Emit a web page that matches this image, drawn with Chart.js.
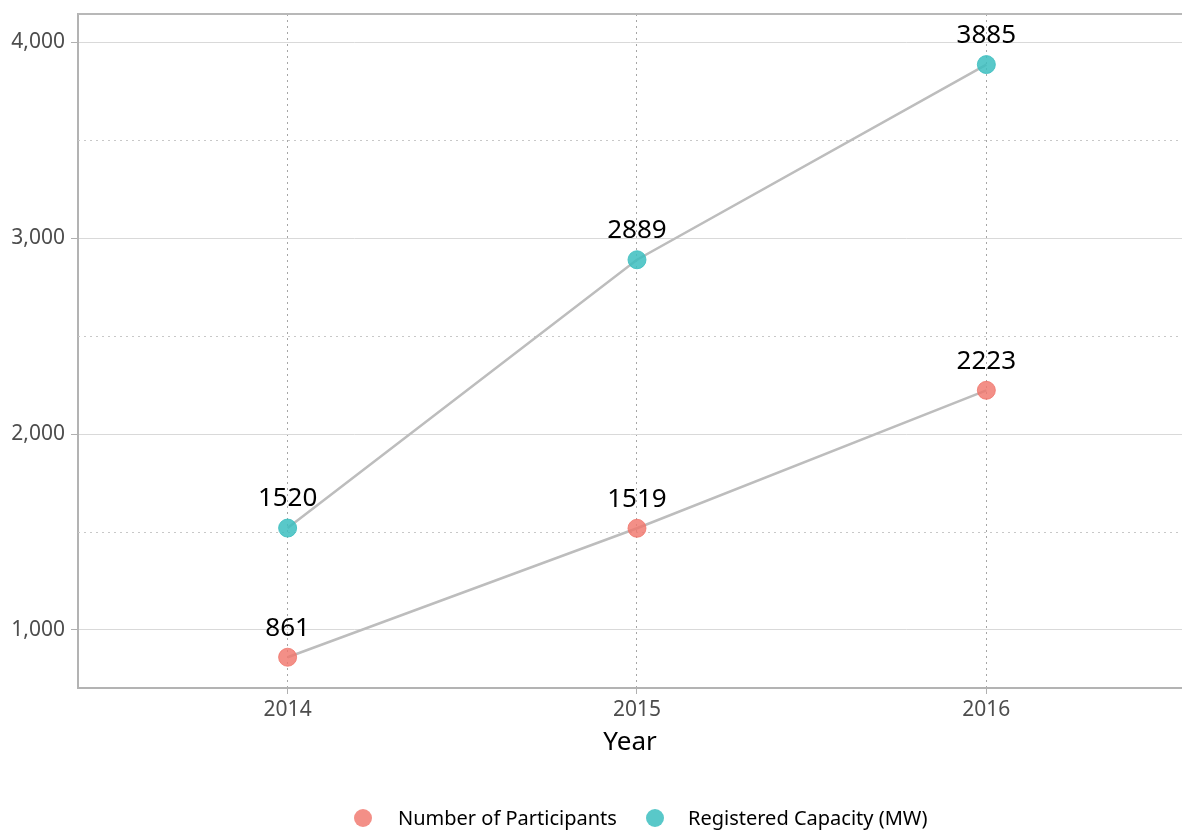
<!DOCTYPE html>
<html>
<head>
<meta charset="utf-8">
<script src="https://cdn.jsdelivr.net/npm/chart.js@4"></script>
<style>
  html, body { margin: 0; padding: 0; background: #fff; }
  #wrap { position: relative; width: 1182px; height: 830px; }
  .leyenda { position: absolute; top: 806px; height: 24px; line-height: 24px;
             font-family: 'Noto Sans', 'DejaVu Sans', sans-serif; font-size: 20px; color: #000; white-space: nowrap; }
  .punto { position: absolute; top: 3px; width: 18px; height: 18px; border-radius: 50%; }
</style>
</head>
<body>
<div id="wrap">
  <canvas id="grafico"></canvas>
  <div class="leyenda" style="left:354px;"><span class="punto" style="left:0;"></span><span style="position:absolute;left:44px;">Number of Participants</span></div>
  <div class="leyenda" style="left:646px;"><span class="punto" style="left:0;"></span><span style="position:absolute;left:42px;">Registered Capacity (MW)</span></div>
</div>
<script>
// datos
const years = [2014, 2015, 2016];
const participants = [861, 1519, 2223];
const capacity = [1520, 2889, 3885];
const seriesNames = ['Number of Participants', 'Registered Capacity (MW)'];
const seriesColors = ['rgba(240,118,108,0.82)', 'rgba(60,190,192,0.85)'];
const yMajorTicks = [1000, 2000, 3000, 4000];
const yMinorTicks = [1500, 2500, 3500];

const fontFam = "'Noto Sans', 'DejaVu Sans', sans-serif";

// leyenda en html
document.querySelectorAll('.punto').forEach((el, i) => { el.style.background = seriesColors[i]; });

// etiquetas sobre los puntos + lineas punteadas + borde superior
const extras = {
  id: 'extras',
  beforeDatasetsDraw(chart) {
    const { ctx, chartArea, scales } = chart;
    ctx.save();
    ctx.strokeStyle = '#c8c8c8';
    ctx.lineWidth = 1;
    ctx.setLineDash([2, 4]);
    yMinorTicks.forEach(v => {
      const y = Math.round(scales.y.getPixelForValue(v)) + 0.5;
      ctx.beginPath();
      ctx.moveTo(chartArea.left, y);
      ctx.lineTo(chartArea.right, y);
      ctx.stroke();
    });
    ctx.setLineDash([]);
    ctx.strokeStyle = '#b8b8b8';
    ctx.lineWidth = 2;
    ctx.beginPath();
    ctx.moveTo(chartArea.left, chartArea.top);
    ctx.lineTo(chartArea.right, chartArea.top);
    ctx.stroke();
    ctx.restore();
  },
  afterDatasetsDraw(chart) {
    const { ctx } = chart;
    ctx.save();
    ctx.fillStyle = '#000';
    ctx.font = '26px ' + fontFam;
    ctx.textAlign = 'center';
    ctx.textBaseline = 'middle';
    chart.data.datasets.forEach((ds, i) => {
      chart.getDatasetMeta(i).data.forEach((pt, j) => {
        ctx.fillText(String(ds.data[j].y), pt.x, pt.y - 29);
      });
    });
    ctx.restore();
  }
};

const ctx = document.getElementById('grafico').getContext('2d');
new Chart(ctx, {
  type: 'line',
  data: {
    datasets: [
      {
        label: seriesNames[0],
        data: years.map((x, i) => ({ x: x, y: participants[i] })),
        borderColor: '#bdbdbd',
        borderWidth: 2.5,
        pointRadius: 9,
        pointHoverRadius: 9,
        pointBackgroundColor: seriesColors[0],
        pointBorderColor: seriesColors[0],
        pointBorderWidth: 1
      },
      {
        label: seriesNames[1],
        data: years.map((x, i) => ({ x: x, y: capacity[i] })),
        borderColor: '#bdbdbd',
        borderWidth: 2.5,
        pointRadius: 9,
        pointHoverRadius: 9,
        pointBackgroundColor: seriesColors[1],
        pointBorderColor: seriesColors[1],
        pointBorderWidth: 1
      }
    ]
  },
  options: {
    responsive: true,
    maintainAspectRatio: false,
    animation: false,
    layout: { autoPadding: false, padding: { top: 14, right: 0, left: 0, bottom: 0 } },
    scales: {
      x: {
        type: 'linear',
        min: 2013.4,
        max: 2016.56,
        afterBuildTicks: (scale) => { scale.ticks = years.map(v => ({ value: v })); },
        afterFit: (scale) => { scale.height = 142; scale.paddingLeft = 0; scale.paddingRight = 0; },
        ticks: {
          callback: (v) => String(v),
          color: '#4d4d4d',
          font: { family: fontFam, size: 21 },
          padding: 3
        },
        grid: {
          color: '#a6a6a6',
          lineWidth: 1,
          tickLength: 6,
          tickColor: '#b0b0b0',
          tickBorderDash: []
        },
        border: { display: true, color: '#b3b3b3', width: 2, dash: [2, 4] },
        title: {
          display: true,
          text: 'Year',
          color: '#000',
          font: { family: fontFam, size: 26 },
          padding: { top: 72, bottom: 72 }
        }
      },
      y: {
        min: 704,
        max: 4143,
        afterBuildTicks: (scale) => { scale.ticks = yMajorTicks.map(v => ({ value: v })); },
        afterFit: (scale) => { scale.width = 78; scale.paddingTop = 0; scale.paddingBottom = 0; },
        ticks: {
          callback: (v) => v.toLocaleString('en-US'),
          color: '#4d4d4d',
          font: { family: fontFam, size: 21 },
          padding: 6
        },
        grid: {
          color: '#d9d9d9',
          lineWidth: 1,
          tickLength: 7,
          tickColor: '#b0b0b0'
        },
        border: { display: true, color: '#b3b3b3', width: 2 }
      }
    },
    plugins: {
      legend: { display: false },
      tooltip: { enabled: false }
    }
  },
  plugins: [extras]
});
</script>
</body>
</html>
